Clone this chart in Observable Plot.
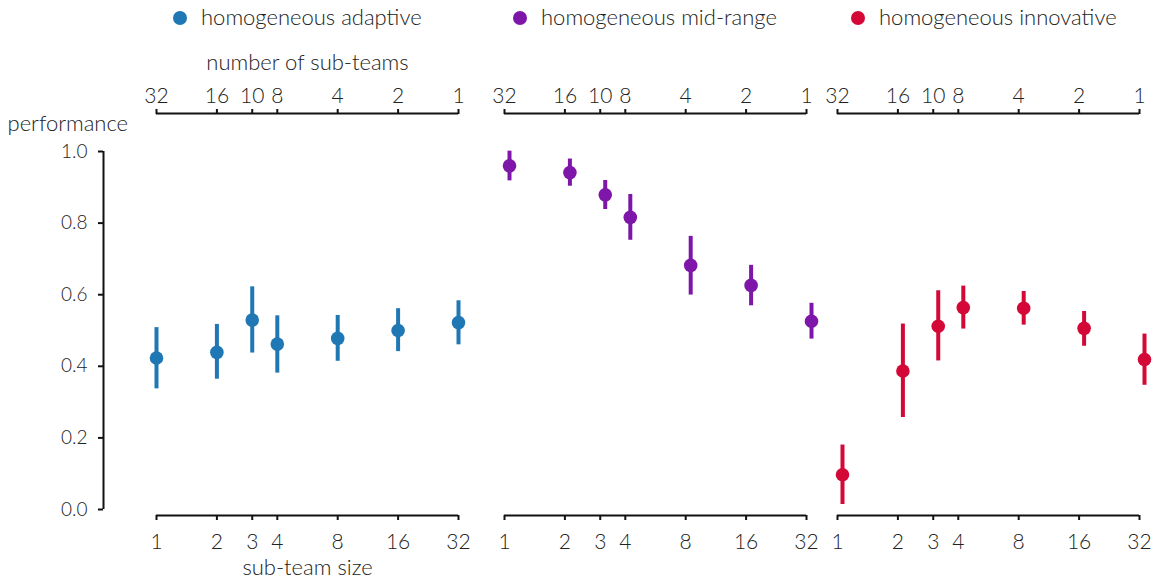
<!DOCTYPE html>
<html><head><meta charset="utf-8">
<script src="https://cdn.jsdelivr.net/npm/d3@7"></script>
<script src="https://cdn.jsdelivr.net/npm/@observablehq/plot@0.6"></script>
<style>
body{margin:0;background:#fff;}
#wrap{position:relative;width:1163px;height:582px;font-family:Lato,"Noto Sans",sans-serif;font-weight:300;color:#222;}
#wrap svg{position:absolute;left:0;top:0;overflow:visible;}
.leg{position:absolute;top:4px;font-size:22px;line-height:26px;white-space:nowrap;}
.leg i{display:inline-block;width:14px;height:14px;border-radius:50%;vertical-align:0px;margin-right:14px;}
</style></head>
<body><div id="wrap"></div>
<script>
// sub-team size (x, log2) and number of sub-teams (top axis)
const sizes = [1, 2, 3, 4, 8, 16, 32];
const teamCountLabels = ["32", "16", "10", "8", "4", "2", "1"];
const groups = ["homogeneous adaptive", "homogeneous mid-range", "homogeneous innovative"];
const colors = ["#1f77b4", "#7e16aa", "#d40837"];

// performance: mean and interval (low, high)
const adaptiveMean = [0.423, 0.439, 0.529, 0.462, 0.478, 0.500, 0.522];
const adaptiveLow  = [0.337, 0.364, 0.437, 0.381, 0.414, 0.441, 0.460];
const adaptiveHigh = [0.508, 0.517, 0.622, 0.541, 0.542, 0.561, 0.583];

const midMean = [0.960, 0.941, 0.879, 0.816, 0.682, 0.626, 0.526];
const midLow  = [0.918, 0.903, 0.838, 0.752, 0.599, 0.569, 0.476];
const midHigh = [1.001, 0.979, 0.919, 0.880, 0.763, 0.682, 0.576];

const innovMean = [0.097, 0.387, 0.512, 0.564, 0.562, 0.506, 0.419];
const innovLow  = [0.014, 0.257, 0.415, 0.504, 0.515, 0.456, 0.347];
const innovHigh = [0.180, 0.518, 0.611, 0.624, 0.609, 0.553, 0.490];

const yTicks = [0, 0.2, 0.4, 0.6, 0.8, 1.0];

const means = [adaptiveMean, midMean, innovMean];
const lows = [adaptiveLow, midLow, innovLow];
const highs = [adaptiveHigh, midHigh, innovHigh];

const W = 1163, H = 582;
const panels = [
  {ml: 156, mr: W - 458, dx: 0},
  {ml: 504, mr: W - 806, dx: 5},
  {ml: 837, mr: W - 1139, dx: 5}
];
const legendX = [173, 513, 851];

const wrap = document.getElementById("wrap");

panels.forEach((p, i) => {
  const data = sizes.map((s, j) => ({size: s, mean: means[i][j], lo: lows[i][j], hi: highs[i][j]}));
  const marks = [
    Plot.ruleY([0], {x1: 1, x2: 32, dy: 6, stroke: "#111", strokeWidth: 2}),
    Plot.axisX(sizes, {anchor: "bottom", label: null, tickSize: 5, dy: 6, strokeWidth: 2, stroke: "#111", tickFormat: () => ""}),
    Plot.axisX(sizes, {anchor: "bottom", label: null, tickSize: 0, tickPadding: 0, dy: 25, fontSize: 21, tickFormat: d => String(d)}),
    Plot.ruleY([1], {x1: 1, x2: 32, dy: -38, stroke: "#111", strokeWidth: 2}),
    Plot.axisX(sizes, {anchor: "top", label: null, tickSize: 5, dy: -38, strokeWidth: 2, stroke: "#111", tickFormat: () => ""}),
    Plot.axisX(sizes, {anchor: "top", label: null, tickSize: 0, tickPadding: 0, dy: -49, fontSize: 21, tickFormat: d => teamCountLabels[sizes.indexOf(d)]}),
    Plot.ruleX(data, {x: "size", y1: "lo", y2: "hi", stroke: colors[i], strokeWidth: 4, dx: p.dx}),
    Plot.dot(data, {x: "size", y: "mean", r: 6.8, fill: colors[i], stroke: "none", dx: p.dx})
  ];
  if (i === 0) {
    marks.push(
      Plot.ruleX([1], {y1: 0, y2: 1, dx: -53, stroke: "#111", strokeWidth: 2}),
      Plot.axisY(yTicks, {anchor: "left", label: null, dx: -53, tickSize: 5, tickPadding: 11, strokeWidth: 2, stroke: "#111", fontSize: 19, tickFormat: d => d.toFixed(1)}),
      Plot.text(["performance"], {frameAnchor: "top-left", textAnchor: "start", dx: -149, dy: -36, fontSize: 22}),
      Plot.text(["number of sub-teams"], {frameAnchor: "top", dy: -97, fontSize: 22}),
      Plot.text(["sub-team size"], {frameAnchor: "bottom", dy: 65, fontSize: 22})
    );
  }
  const svg = Plot.plot({
    width: W, height: H,
    marginLeft: p.ml, marginRight: p.mr, marginTop: 151, marginBottom: H - 509,
    x: {type: "log", base: 2, domain: [1, 32], axis: null},
    y: {domain: [0, 1], axis: null},
    style: {fontFamily: "Lato, 'Noto Sans', sans-serif", fontSize: "20px", fontWeight: 300, color: "#222", background: "transparent", overflow: "visible"},
    marks
  });
  wrap.appendChild(svg);
  const leg = document.createElement("div");
  leg.className = "leg";
  leg.style.left = legendX[i] + "px";
  leg.innerHTML = `<i style="background:${colors[i]}"></i>${groups[i]}`;
  wrap.appendChild(leg);
});
</script>
</body></html>
